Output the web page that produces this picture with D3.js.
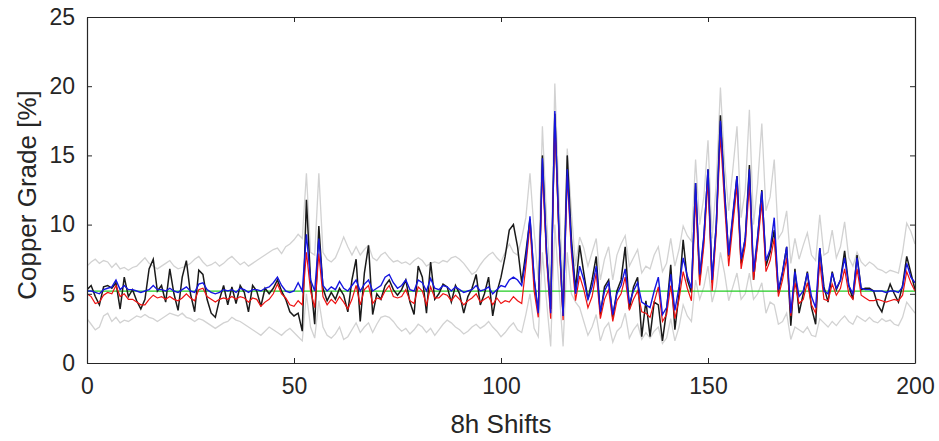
<!DOCTYPE html>
<html>
  <head>
    <meta charset="utf-8">
    <title>Copper Grade</title>
    <script src="https://d3js.org/d3.v7.min.js"></script>
    <style>
      body { margin: 0; background: #fff; }
      text { font-family: Arial, "Liberation Sans", sans-serif; fill: #262626; }
    </style>
  </head>
  <body>
    <svg id="chart"></svg>
    <script>
      // shift index 0..200
      var shifts = d3.range(0, 201);
      var xTicks = [0, 50, 100, 150, 200];
      var yTicks = [0, 5, 10, 15, 20, 25];
      var meanGrade = 5.2;

      // measured grade (black)
      var measured = [
        5.3,5.6,4.8,4.2,5.5,5.6,5.4,5.8,3.9,6.2, 4.8,5.3,4.5,3.9,4.6,6.8,7.5,5.2,5.6,4.4,
        6.8,5.0,3.8,6.2,7.4,5.0,3.7,6.7,6.4,4.6, 3.6,3.3,4.6,5.6,4.2,5.5,4.3,5.6,5.1,3.7,
        5.6,5.2,4.1,5.4,5.0,5.4,6.0,5.2,4.6,3.7, 3.4,3.6,2.3,11.8,6.0,2.8,9.9,5.4,4.5,5.1,
        4.6,5.4,4.9,3.7,6.0,7.5,3.0,6.5,8.5,3.5, 5.0,4.6,5.6,6.0,5.3,4.9,5.3,6.0,4.4,3.5,
        7.0,6.2,3.6,7.3,4.6,5.0,5.7,5.5,4.4,5.6, 5.0,3.6,4.8,5.4,6.4,4.2,5.0,6.2,3.4,5.1,
        6.2,7.7,9.6,10.0,8.4,5.8,8.0,10.4,6.0,3.6, 15.0,8.0,3.9,18.0,9.5,3.4,15.0,9.0,5.3,8.5,
        6.5,4.6,6.0,7.7,3.5,5.5,6.0,3.3,5.2,6.0, 8.4,3.9,5.5,6.2,1.9,4.5,1.9,4.4,4.2,1.6,
        3.8,7.1,2.4,5.0,8.9,6.0,5.1,13.0,6.0,9.0, 14.0,5.8,10.0,17.9,12.5,7.7,10.5,13.5,7.2,9.0,
        14.3,6.0,9.0,12.5,7.0,8.0,9.6,5.1,6.5,8.4, 2.7,6.8,3.6,5.0,6.6,4.0,2.8,8.3,5.5,4.4,
        6.6,5.3,6.0,8.1,5.6,4.6,7.8,5.3,5.4,5.4, 5.2,4.2,3.7,4.8,5.7,5.0,4.4,5.6,7.7,6.5,
        5.3
      ];

      // estimate (blue)
      var estimateA = [
        5.2,5.2,5.1,5.0,5.3,5.4,5.5,6.0,5.3,5.6, 5.3,5.3,5.2,5.1,5.2,5.3,5.6,5.3,5.3,5.2,
        5.4,5.2,5.1,5.3,5.5,5.2,5.1,5.7,5.8,5.3, 5.1,5.0,5.1,5.3,5.2,5.3,5.1,5.4,5.3,5.1,
        5.3,5.3,5.2,5.4,5.5,5.8,6.2,5.6,5.2,5.1, 5.2,5.8,5.2,9.3,6.0,5.2,9.0,5.6,5.2,5.5,
        5.3,5.9,5.4,5.2,5.6,6.0,5.2,5.7,6.0,5.2, 5.4,5.6,6.2,6.4,5.8,5.4,5.6,6.0,5.3,5.2,
        6.0,5.8,5.2,6.1,5.4,5.3,5.6,5.5,5.2,5.5, 5.3,5.1,5.2,5.3,5.6,5.2,5.3,5.5,5.0,5.3,
        5.6,5.5,6.0,6.2,6.0,5.6,7.5,10.6,6.2,3.6, 14.8,8.0,3.6,18.2,9.5,3.4,14.0,8.5,5.0,7.0,
        6.0,4.6,5.5,7.0,3.7,5.2,5.8,3.5,5.0,5.6, 6.8,4.3,5.2,5.8,4.4,4.2,4.0,5.2,6.2,3.5,
        4.0,6.4,3.8,5.5,7.6,6.3,5.4,13.0,6.4,9.2, 14.0,6.0,10.0,17.5,12.3,7.8,10.8,13.5,7.5,9.0,
        14.0,6.6,9.2,12.4,7.4,8.2,10.5,5.3,6.6,8.4, 3.6,6.6,4.8,5.2,6.5,4.8,4.0,8.3,5.2,5.0,
        6.5,5.4,6.0,7.6,5.6,5.0,7.6,5.4,5.3,5.3, 5.2,5.2,5.2,5.1,5.2,5.2,5.1,5.5,7.2,6.2,
        5.8
      ];

      // estimate (red)
      var estimateB = [
        5.0,4.8,4.3,4.4,4.9,5.1,5.0,5.6,4.8,5.0, 4.6,4.6,4.4,4.2,4.2,4.6,4.9,4.7,4.8,4.6,
        4.8,4.6,4.5,4.7,5.0,4.7,4.5,5.3,5.4,4.8, 4.6,4.4,4.6,4.7,4.6,4.8,4.6,4.8,4.7,4.4,
        4.7,4.6,4.1,4.4,4.6,5.0,5.7,5.0,4.7,4.2, 4.1,4.5,4.2,8.0,5.2,4.0,7.9,4.8,4.2,4.6,
        4.3,4.8,4.4,3.9,4.6,5.6,4.2,5.3,5.6,4.3, 4.7,4.6,5.2,5.6,4.8,4.7,4.8,5.3,4.5,4.3,
        5.5,5.2,4.2,5.5,4.7,4.7,5.0,4.9,4.5,4.9, 4.6,4.2,4.5,4.7,5.0,4.4,4.6,4.8,4.2,4.7,
        4.3,4.5,4.4,4.8,4.5,4.3,7.0,10.0,5.2,3.3, 14.0,7.5,3.2,17.5,9.0,3.1,13.5,8.0,4.5,6.3,
        5.3,4.0,4.8,6.5,3.2,4.6,5.3,3.0,4.5,5.0, 6.2,3.8,4.6,5.2,3.7,3.6,3.3,4.4,5.5,3.0,
        3.5,5.6,3.2,4.6,6.6,5.4,4.5,12.0,5.6,8.5, 13.2,5.2,9.5,16.5,11.5,7.0,10.0,12.8,6.8,8.5,
        13.0,6.0,8.6,11.6,6.6,7.4,9.0,4.8,6.0,7.6, 3.4,5.8,4.3,4.6,5.8,4.2,3.6,7.3,4.6,4.5,
        5.7,4.9,5.4,6.8,5.0,4.6,6.8,4.9,4.7,4.5, 4.5,4.6,4.5,4.4,4.5,4.6,4.5,4.9,6.6,5.8,
        5.2
      ];

      // upper bound (light gray)
      var upperBound = [
        7.0,7.3,7.5,7.2,7.4,7.3,6.9,7.2,6.8,6.9, 6.7,6.9,7.0,7.3,7.6,7.2,7.0,6.8,7.0,7.2,
        7.4,7.0,6.8,6.9,7.0,7.2,7.5,7.7,7.3,7.0, 7.1,7.3,7.0,7.2,7.5,7.7,7.4,7.1,7.3,7.0,
        7.2,7.4,7.6,7.8,8.0,8.2,8.3,7.9,8.4,8.6, 8.9,9.3,9.0,13.7,8.0,7.8,13.7,8.0,7.5,7.3,
        7.6,8.3,9.1,8.4,7.8,8.4,7.8,8.2,8.5,7.6, 7.4,7.8,8.0,7.6,7.3,7.4,7.2,7.3,7.1,7.4,
        7.6,7.4,7.0,7.2,7.3,7.2,7.4,7.3,7.6,7.7, 7.5,7.2,6.8,6.4,6.6,7.1,7.5,7.8,8.0,7.6,
        7.3,8.0,8.6,8.0,7.8,9.0,10.5,13.7,9.5,6.0, 17.1,10.5,5.5,20.2,12.0,5.5,15.5,11.0,7.0,9.1,
        8.3,7.0,8.0,9.0,6.0,7.5,8.4,6.0,7.8,8.6, 9.2,7.0,7.6,8.2,6.5,7.0,6.8,7.8,8.4,6.6,
        7.2,9.0,7.0,8.2,9.9,9.2,8.8,14.7,10.0,12.0, 16.1,9.0,13.0,19.9,14.5,11.0,14.0,17.1,10.5,12.5,
        18.3,10.0,13.0,17.3,11.0,12.0,14.7,9.0,9.5,11.0, 7.2,9.0,7.5,8.5,9.4,7.8,7.4,10.7,7.8,8.0,
        9.6,7.6,8.4,10.2,7.6,7.0,8.0,7.3,7.0,7.3, 7.1,6.8,6.7,6.5,6.7,6.6,6.5,8.0,10.1,9.5,
        8.6
      ];

      // lower bound (light gray)
      var lowerBound = [
        3.2,2.8,2.4,2.6,3.4,3.6,3.0,3.3,2.9,3.1, 3.0,3.2,3.4,3.3,3.5,3.3,3.2,3.0,3.2,3.4,
        3.6,3.5,3.4,3.6,3.3,3.2,3.0,3.2,3.1,2.9, 2.7,2.5,2.7,2.9,3.0,3.3,3.1,3.0,2.8,2.6,
        2.4,2.2,2.0,2.3,2.6,2.4,2.2,2.0,2.3,2.5, 2.2,1.9,1.6,5.0,2.6,1.8,4.5,2.6,2.0,1.8,
        2.1,2.6,1.7,1.9,2.4,2.9,2.2,2.6,2.9,2.2, 2.8,3.3,3.4,3.3,3.0,2.6,2.3,2.5,2.1,2.4,
        2.8,2.6,2.2,2.5,2.0,2.4,2.8,3.1,2.9,2.6, 2.4,2.1,2.3,2.6,2.8,2.5,2.7,3.0,2.6,2.3,
        1.9,2.2,2.6,2.9,2.4,2.2,3.5,5.0,2.5,1.9, 8.0,4.5,1.2,10.0,5.5,1.2,8.0,5.0,4.4,4.0,
        3.0,2.0,2.6,3.5,1.6,2.5,2.9,1.5,2.3,2.6, 3.6,1.8,2.4,2.8,1.7,2.2,1.8,2.3,2.6,1.4,
        1.8,3.2,1.6,2.6,4.2,3.4,3.0,6.0,4.6,5.5, 7.0,4.4,5.5,8.0,6.5,4.5,5.5,6.5,4.6,5.0,
        6.5,4.6,5.0,5.8,3.6,4.4,4.2,2.8,3.0,3.6, 1.7,2.6,2.4,2.2,2.6,2.0,1.9,3.2,2.9,2.6,
        3.0,2.7,3.1,3.4,3.0,2.8,3.4,3.2,3.0,3.3, 3.0,2.9,3.2,3.0,3.1,2.8,2.7,3.3,4.4,4.0,
        3.6
      ];

      var ancho = 939, alto = 441;
      var margen = {arriba: 17, derecha: 24, abajo: 78, izquierda: 87};
      var w = ancho - margen.izquierda - margen.derecha;
      var h = alto - margen.arriba - margen.abajo;

      var x = d3.scaleLinear().domain([0, 200]).range([0, w]);
      var y = d3.scaleLinear().domain([0, 25]).range([h, 0]);

      var svg = d3.select("#chart").attr("width", ancho).attr("height", alto);
      var g = svg.append("g").attr("transform", "translate(" + margen.izquierda + "," + margen.arriba + ")");

      var clip = g.append("clipPath").attr("id", "clip");
      clip.append("rect").attr("width", w).attr("height", h);
      var plot = g.append("g").attr("clip-path", "url(#clip)");

      function linea(vals) {
        return d3.line()
          .x(function(d, i) { return x(shifts[i]); })
          .y(function(d) { return y(d); })(vals);
      }

      plot.append("path").attr("d", linea(upperBound))
        .attr("fill", "none").attr("stroke", "#d2d2d2").attr("stroke-width", 1.3);
      plot.append("path").attr("d", linea(lowerBound))
        .attr("fill", "none").attr("stroke", "#d2d2d2").attr("stroke-width", 1.3);
      plot.append("path").attr("d", linea(shifts.map(function() { return meanGrade; })))
        .attr("fill", "none").attr("stroke", "#22cc22").attr("stroke-width", 1.3);
      plot.append("path").attr("d", linea(measured))
        .attr("fill", "none").attr("stroke", "#1a1a1a").attr("stroke-width", 1.5);
      plot.append("path").attr("d", linea(estimateB))
        .attr("fill", "none").attr("stroke", "#ee1111").attr("stroke-width", 1.2);
      plot.append("path").attr("d", linea(estimateA))
        .attr("fill", "none").attr("stroke", "#1515e0").attr("stroke-width", 1.4);

      // axes, MATLAB-style box with inward ticks
      var ejeAbajo = d3.axisBottom(x).tickValues(xTicks).tickSizeInner(-5).tickSizeOuter(0).tickPadding(15);
      var ejeIzq = d3.axisLeft(y).tickValues(yTicks).tickSizeInner(-5).tickSizeOuter(0).tickPadding(12);
      var ejeArriba = d3.axisTop(x).tickValues(xTicks).tickSizeInner(-5).tickSizeOuter(0).tickFormat("");
      var ejeDer = d3.axisRight(y).tickValues(yTicks).tickSizeInner(-5).tickSizeOuter(0).tickFormat("");

      function estilo(sel) {
        sel.select(".domain").attr("stroke", "#262626").attr("stroke-width", 1.2);
        sel.selectAll(".tick line").attr("stroke", "#262626").attr("stroke-width", 1);
        sel.selectAll(".tick text").style("font-size", "23px").attr("fill", "#262626");
      }

      g.append("g").attr("transform", "translate(0," + h + ")").call(ejeAbajo).call(estilo);
      g.append("g").call(ejeIzq).call(estilo);
      g.append("g").call(ejeArriba).call(estilo);
      g.append("g").attr("transform", "translate(" + w + ",0)").call(ejeDer).call(estilo);

      svg.append("text")
        .attr("x", margen.izquierda + w / 2)
        .attr("y", 433)
        .attr("text-anchor", "middle")
        .style("font-size", "26px")
        .text("8h Shifts");
      svg.append("text")
        .attr("transform", "translate(36," + (margen.arriba + h / 2 + 5) + ") rotate(-90)")
        .attr("text-anchor", "middle")
        .style("font-size", "26px")
        .text("Copper Grade [%]");
    </script>
  </body>
</html>
